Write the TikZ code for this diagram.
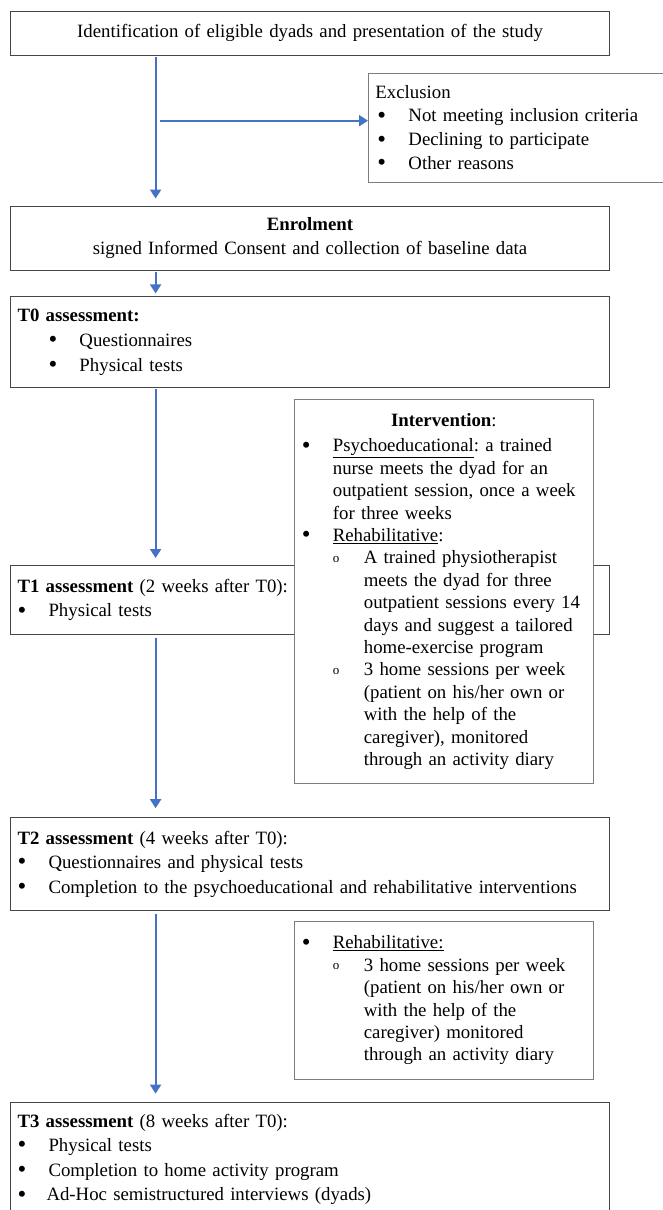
\documentclass[tikz,border=0pt]{standalone}
\usepackage{fontspec}
\setmainfont{Liberation Serif}
\usetikzlibrary{arrows.meta,positioning}
\definecolor{flowblue}{RGB}{68,114,196}
\definecolor{boxline}{RGB}{70,70,70}
\definecolor{sideline}{RGB}{125,125,125}
\newcommand{\bul}{\makebox[31pt][l]{\raisebox{-1.2pt}{\fontsize{25}{25}\selectfont\textbullet}}}
\newcommand{\subbul}{\hspace*{31pt}\makebox[31pt][l]{\raisebox{1.5pt}{\fontsize{13}{13}\selectfont o}}}
\newcommand{\subcont}{\hspace*{62pt}}
\frenchspacing

\begin{document}
\begin{tikzpicture}[x=1pt,y=-1pt,
stage/.style={draw=boxline,line width=0.9pt,text width=585pt,inner xsep=7pt,inner ysep=0pt,align=left,font=\fontsize{18.8}{24.6}\selectfont},
side/.style={draw=sideline,fill=white,line width=0.9pt,text width=284pt,inner xsep=7.5pt,inner ysep=0pt,align=left,font=\fontsize{18.8}{22.4}\selectfont},
arr/.style={-{Triangle[width=11pt,length=9pt]},line width=2pt,flowblue,shorten >=7pt,shorten <=1pt}]
\useasboundingbox (0,0) rectangle (663,1210);
% main column
\node[stage,align=center,minimum height=43.3pt] (ident) at (310,33.4) {Identification of eligible dyads and presentation of the study};
\node[stage,align=center,minimum height=64.3pt,below=150pt of ident] (enrol) {\textbf{Enrolment}\\signed Informed Consent and collection of baseline data};
\node[stage,minimum height=91pt,below=25.7pt of enrol] (t0) {\textbf{T0 assessment:}\\
\hspace*{31pt}\bul Questionnaires\\
\hspace*{31pt}\bul Physical tests};
\node[stage,minimum height=69pt,below=176.7pt of t0] (t1) {\textbf{T1 assessment} (2 weeks after T0):\\
\bul Physical tests};
\node[stage,minimum height=92.7pt,below=182.3pt of t1] (t2) {\textbf{T2 assessment} (4 weeks after T0):\\
\bul Questionnaires and physical tests\\
\bul Completion to the psychoeducational and rehabilitative interventions};
\node[stage,minimum height=114.8pt,below=190.8pt of t2] (t3) {\textbf{T3 assessment} (8 weeks after T0):\\
\bul Physical tests\\
\bul Completion to home activity program\\
\makebox[29pt][l]{\raisebox{-1.2pt}{\fontsize{25}{25}\selectfont\textbullet}}Ad-Hoc semistructured interviews (dyads)};
% side boxes
\node[side,text width=300pt,inner xsep=7pt,minimum height=109.6pt,anchor=north west,font=\fontsize{18.8}{23.9}\selectfont] (excl) at (368,72.7) {Exclusion\\
\hspace*{2pt}\bul Not meeting inclusion criteria\\
\hspace*{2pt}\bul Declining to participate\\
\hspace*{2pt}\bul Other reasons};
\node[side,minimum height=384.3pt,anchor=north west] (interv) at (293.9,399) {\makebox[\linewidth][c]{\textbf{Intervention}:}\\[3pt]
\bul\underline{Psychoeducational}: a trained\\
\hspace*{31pt}nurse meets the dyad for an\\
\hspace*{31pt}outpatient session, once a week\\
\hspace*{31pt}for three weeks\\
\bul\underline{Rehabilitative}:\\
\subbul A trained physiotherapist\\
\subcont meets the dyad for three\\
\subcont\mbox{outpatient sessions every 14}\\
\subcont days and suggest a tailored\\
\subcont home-exercise program\\
\subbul 3 home sessions per week\\
\subcont (patient on his/her own or\\
\subcont with the help of the\\
\subcont caregiver), monitored\\
\subcont through an activity diary};
\node[side,minimum height=158.6pt,anchor=north west] (rehab) at (293.9,920.7) {\bul\underline{Rehabilitative:}\\
\subbul 3 home sessions per week\\
\subcont (patient on his/her own or\\
\subcont with the help of the\\
\subcont caregiver) monitored\\
\subcont through an activity diary};
% connectors
\coordinate (spine) at (155.6,0);
\coordinate (split) at (158.6,120.7);
\draw[arr] (spine |- ident.south) -- (spine |- enrol.north);
\draw[arr,shorten >=0pt] (split) -- (split -| excl.west);
\draw[arr,shorten >=3pt] (spine |- enrol.south) -- (spine |- t0.north);
\draw[arr] (spine |- t0.south) -- (spine |- t1.north);
\draw[arr,shorten >=9pt,shorten <=3pt] (spine |- t1.south) -- (spine |- t2.north);
\draw[arr,shorten >=8pt,shorten <=3pt] (spine |- t2.south) -- (spine |- t3.north);
\end{tikzpicture}
\end{document}
